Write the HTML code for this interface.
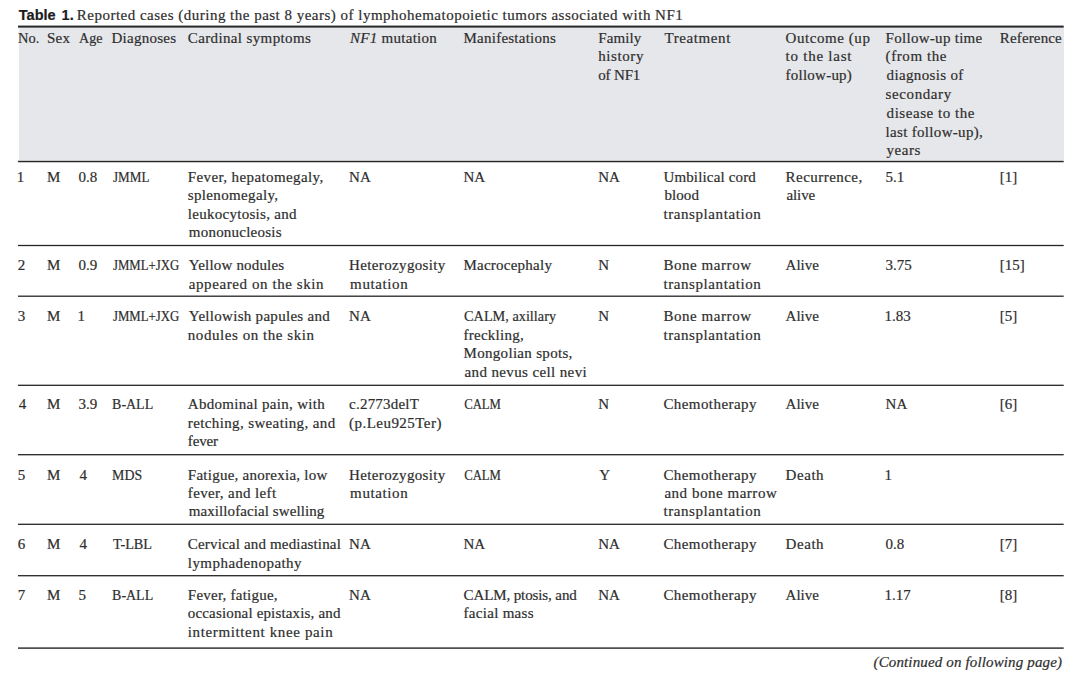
<!DOCTYPE html>
<html><head><meta charset="utf-8">
<style>
html,body{margin:0;padding:0;background:#fff;}
body{width:1080px;height:680px;position:relative;overflow:hidden;font-family:"Liberation Serif",serif;color:#2e2e2e;}
.l{position:absolute;font-size:15px;white-space:nowrap;-webkit-text-stroke:0.2px #2e2e2e;}
.hdr{position:absolute;left:18.5px;top:27px;width:1045px;height:133px;background:#e6e7ea;}
svg{position:absolute;left:0;top:0;}
</style></head><body>
<div class="hdr"></div>

<div class="l" style="left:18.8px;top:4.60px;line-height:20px;font-family:'Liberation Sans',sans-serif;font-weight:bold;font-size:14.5px;color:#1c1c1c;-webkit-text-stroke:0.2px #1c1c1c;word-spacing:2px">Table 1.</div>
<div class="l" style="left:76.80px;top:4.60px;line-height:20px;letter-spacing:0.49px">Reported cases (during the past 8 years) of lymphohematopoietic tumors associated with NF1</div>
<div class="l" style="left:17.75px;top:28.60px;line-height:18.8px;transform:scaleX(0.9625);transform-origin:1px 0">No.</div>
<div class="l" style="left:47.00px;top:28.60px;line-height:18.8px;letter-spacing:0.250px">Sex</div>
<div class="l" style="left:78.50px;top:28.60px;line-height:18.8px;transform:scaleX(0.9375);transform-origin:1px 0">Age</div>
<div class="l" style="left:111.50px;top:28.60px;line-height:18.8px;letter-spacing:0.250px">Diagnoses</div>
<div class="l" style="left:187.80px;top:28.60px;line-height:18.8px;letter-spacing:0.369px">Cardinal symptoms</div>
<div class="l" style="left:350.10px;top:28.60px;line-height:18.8px;letter-spacing:0.264px"><i>NF1</i> mutation</div>
<div class="l" style="left:463.50px;top:28.60px;line-height:18.8px;letter-spacing:0.246px">Manifestations</div>
<div class="l" style="left:598.20px;top:28.60px;line-height:18.8px;letter-spacing:0.120px">Family</div>
<div class="l" style="left:598.20px;top:47.40px;line-height:18.8px;letter-spacing:0.600px">history</div>
<div class="l" style="left:598.20px;top:66.20px;line-height:18.8px;letter-spacing:-0.160px">of NF1</div>
<div class="l" style="left:664.40px;top:28.60px;line-height:18.8px;letter-spacing:0.612px">Treatment</div>
<div class="l" style="left:785.60px;top:28.60px;line-height:18.8px;letter-spacing:0.560px">Outcome (up</div>
<div class="l" style="left:785.60px;top:47.40px;line-height:18.8px;letter-spacing:0.750px">to the last</div>
<div class="l" style="left:785.60px;top:66.20px;line-height:18.8px;letter-spacing:0.233px">follow-up)</div>
<div class="l" style="left:885.60px;top:28.60px;line-height:18.8px;letter-spacing:0.285px">Follow-up time</div>
<div class="l" style="left:885.60px;top:47.40px;line-height:18.8px;letter-spacing:0.587px">(from the</div>
<div class="l" style="left:886.60px;top:66.20px;line-height:18.8px;letter-spacing:0.345px">diagnosis of</div>
<div class="l" style="left:885.60px;top:85.00px;line-height:18.8px;letter-spacing:0.600px">secondary</div>
<div class="l" style="left:886.60px;top:103.80px;line-height:18.8px;letter-spacing:0.546px">disease to the</div>
<div class="l" style="left:885.60px;top:122.60px;line-height:18.8px;letter-spacing:0.313px">last follow-up),</div>
<div class="l" style="left:886.60px;top:141.40px;line-height:18.8px;letter-spacing:0.525px">years</div>
<div class="l" style="left:999.75px;top:28.60px;line-height:18.8px;letter-spacing:0.156px">Reference</div>
<div class="l" style="left:16.75px;top:167.60px;line-height:18.5px;letter-spacing:0.000px">1</div>
<div class="l" style="left:47.00px;top:167.60px;line-height:18.5px;letter-spacing:0.000px">M</div>
<div class="l" style="left:78.50px;top:167.60px;line-height:18.5px;letter-spacing:0.000px">0.8</div>
<div class="l" style="left:112.50px;top:167.60px;line-height:18.5px;transform:scaleX(0.8732);transform-origin:0px 0">JMML</div>
<div class="l" style="left:187.80px;top:167.60px;line-height:18.5px;letter-spacing:0.389px">Fever, hepatomegaly,</div>
<div class="l" style="left:187.80px;top:186.10px;line-height:18.5px;letter-spacing:0.350px">splenomegaly,</div>
<div class="l" style="left:187.80px;top:204.60px;line-height:18.5px;letter-spacing:0.281px">leukocytosis, and</div>
<div class="l" style="left:188.80px;top:223.10px;line-height:18.5px;letter-spacing:0.225px">mononucleosis</div>
<div class="l" style="left:349.10px;top:167.60px;line-height:18.5px;letter-spacing:0.000px">NA</div>
<div class="l" style="left:463.50px;top:167.60px;line-height:18.5px;letter-spacing:0.000px">NA</div>
<div class="l" style="left:598.20px;top:167.60px;line-height:18.5px;letter-spacing:0.000px">NA</div>
<div class="l" style="left:663.40px;top:167.60px;line-height:18.5px;letter-spacing:0.154px">Umbilical cord</div>
<div class="l" style="left:664.40px;top:186.10px;line-height:18.5px;letter-spacing:0.100px">blood</div>
<div class="l" style="left:663.40px;top:204.60px;line-height:18.5px;letter-spacing:0.586px">transplantation</div>
<div class="l" style="left:785.60px;top:167.60px;line-height:18.5px;letter-spacing:0.460px">Recurrence,</div>
<div class="l" style="left:786.60px;top:186.10px;line-height:18.5px;letter-spacing:-0.150px">alive</div>
<div class="l" style="left:885.60px;top:167.60px;line-height:18.5px;letter-spacing:0.000px">5.1</div>
<div class="l" style="left:999.75px;top:167.60px;line-height:18.5px;letter-spacing:0.000px">[1]</div>
<div class="l" style="left:17.75px;top:256.45px;line-height:18.5px;letter-spacing:0.000px">2</div>
<div class="l" style="left:47.00px;top:256.45px;line-height:18.5px;letter-spacing:0.000px">M</div>
<div class="l" style="left:78.50px;top:256.45px;line-height:18.5px;letter-spacing:0.000px">0.9</div>
<div class="l" style="left:112.50px;top:256.45px;line-height:18.5px;transform:scaleX(0.8532);transform-origin:0px 0">JMML+JXG</div>
<div class="l" style="left:188.80px;top:256.45px;line-height:18.5px;letter-spacing:0.169px">Yellow nodules</div>
<div class="l" style="left:188.80px;top:274.95px;line-height:18.5px;letter-spacing:0.584px">appeared on the skin</div>
<div class="l" style="left:349.10px;top:256.45px;line-height:18.5px;letter-spacing:0.354px">Heterozygosity</div>
<div class="l" style="left:350.10px;top:274.95px;line-height:18.5px;letter-spacing:0.614px">mutation</div>
<div class="l" style="left:463.50px;top:256.45px;line-height:18.5px;letter-spacing:0.236px">Macrocephaly</div>
<div class="l" style="left:598.20px;top:256.45px;line-height:18.5px;letter-spacing:0.000px">N</div>
<div class="l" style="left:663.40px;top:256.45px;line-height:18.5px;letter-spacing:0.560px">Bone marrow</div>
<div class="l" style="left:663.40px;top:274.95px;line-height:18.5px;letter-spacing:0.586px">transplantation</div>
<div class="l" style="left:785.60px;top:256.45px;line-height:18.5px;letter-spacing:0.000px">Alive</div>
<div class="l" style="left:885.60px;top:256.45px;line-height:18.5px;letter-spacing:0.000px">3.75</div>
<div class="l" style="left:999.75px;top:256.45px;line-height:18.5px;letter-spacing:0.000px">[15]</div>
<div class="l" style="left:17.75px;top:307.05px;line-height:18.5px;letter-spacing:0.000px">3</div>
<div class="l" style="left:47.00px;top:307.05px;line-height:18.5px;letter-spacing:0.000px">M</div>
<div class="l" style="left:77.50px;top:307.05px;line-height:18.5px;letter-spacing:0.000px">1</div>
<div class="l" style="left:112.50px;top:307.05px;line-height:18.5px;transform:scaleX(0.8532);transform-origin:0px 0">JMML+JXG</div>
<div class="l" style="left:188.80px;top:307.05px;line-height:18.5px;letter-spacing:0.290px">Yellowish papules and</div>
<div class="l" style="left:187.80px;top:325.55px;line-height:18.5px;letter-spacing:0.556px">nodules on the skin</div>
<div class="l" style="left:349.10px;top:307.05px;line-height:18.5px;letter-spacing:0.000px">NA</div>
<div class="l" style="left:463.50px;top:307.05px;line-height:18.5px;transform:scaleX(0.9516);transform-origin:1px 0">CALM, axillary</div>
<div class="l" style="left:463.50px;top:325.55px;line-height:18.5px;letter-spacing:0.256px">freckling,</div>
<div class="l" style="left:463.50px;top:344.05px;line-height:18.5px;letter-spacing:0.313px">Mongolian spots,</div>
<div class="l" style="left:464.50px;top:362.55px;line-height:18.5px;letter-spacing:0.378px">and nevus cell nevi</div>
<div class="l" style="left:598.20px;top:307.05px;line-height:18.5px;letter-spacing:0.000px">N</div>
<div class="l" style="left:663.40px;top:307.05px;line-height:18.5px;letter-spacing:0.560px">Bone marrow</div>
<div class="l" style="left:663.40px;top:325.55px;line-height:18.5px;letter-spacing:0.586px">transplantation</div>
<div class="l" style="left:785.60px;top:307.05px;line-height:18.5px;letter-spacing:0.000px">Alive</div>
<div class="l" style="left:884.60px;top:307.05px;line-height:18.5px;letter-spacing:0.000px">1.83</div>
<div class="l" style="left:999.75px;top:307.05px;line-height:18.5px;letter-spacing:0.000px">[5]</div>
<div class="l" style="left:18.75px;top:394.65px;line-height:18.9px;letter-spacing:0.000px">4</div>
<div class="l" style="left:47.00px;top:394.65px;line-height:18.9px;letter-spacing:0.000px">M</div>
<div class="l" style="left:78.50px;top:394.65px;line-height:18.9px;letter-spacing:0.000px">3.9</div>
<div class="l" style="left:111.50px;top:394.65px;line-height:18.9px;transform:scaleX(0.9310);transform-origin:1px 0">B-ALL</div>
<div class="l" style="left:187.80px;top:394.65px;line-height:18.9px;letter-spacing:0.300px">Abdominal pain, with</div>
<div class="l" style="left:187.80px;top:413.55px;line-height:18.9px;letter-spacing:0.373px">retching, sweating, and</div>
<div class="l" style="left:187.80px;top:432.45px;line-height:18.9px;letter-spacing:-0.150px">fever</div>
<div class="l" style="left:349.10px;top:394.65px;line-height:18.9px;letter-spacing:0.211px">c.2773delT</div>
<div class="l" style="left:349.10px;top:413.55px;line-height:18.9px;letter-spacing:0.458px">(p.Leu925Ter)</div>
<div class="l" style="left:463.50px;top:394.65px;line-height:18.9px;transform:scaleX(0.8476);transform-origin:1px 0">CALM</div>
<div class="l" style="left:598.20px;top:394.65px;line-height:18.9px;letter-spacing:0.000px">N</div>
<div class="l" style="left:663.40px;top:394.65px;line-height:18.9px;letter-spacing:0.427px">Chemotherapy</div>
<div class="l" style="left:785.60px;top:394.65px;line-height:18.9px;letter-spacing:0.000px">Alive</div>
<div class="l" style="left:885.60px;top:394.65px;line-height:18.9px;letter-spacing:0.000px">NA</div>
<div class="l" style="left:999.75px;top:394.65px;line-height:18.9px;letter-spacing:0.000px">[6]</div>
<div class="l" style="left:17.75px;top:465.55px;line-height:18.1px;letter-spacing:0.000px">5</div>
<div class="l" style="left:47.00px;top:465.55px;line-height:18.1px;letter-spacing:0.000px">M</div>
<div class="l" style="left:79.50px;top:465.55px;line-height:18.1px;letter-spacing:0.000px">4</div>
<div class="l" style="left:111.50px;top:465.55px;line-height:18.1px;transform:scaleX(0.9226);transform-origin:1px 0">MDS</div>
<div class="l" style="left:187.80px;top:465.55px;line-height:18.1px;letter-spacing:0.257px">Fatigue, anorexia, low</div>
<div class="l" style="left:187.80px;top:483.65px;line-height:18.1px;letter-spacing:0.371px">fever, and left</div>
<div class="l" style="left:188.80px;top:501.75px;line-height:18.1px;letter-spacing:0.081px">maxillofacial swelling</div>
<div class="l" style="left:349.10px;top:465.55px;line-height:18.1px;letter-spacing:0.354px">Heterozygosity</div>
<div class="l" style="left:350.10px;top:483.65px;line-height:18.1px;letter-spacing:0.614px">mutation</div>
<div class="l" style="left:463.50px;top:465.55px;line-height:18.1px;transform:scaleX(0.8476);transform-origin:1px 0">CALM</div>
<div class="l" style="left:599.20px;top:465.55px;line-height:18.1px;letter-spacing:0.000px">Y</div>
<div class="l" style="left:663.40px;top:465.55px;line-height:18.1px;letter-spacing:0.427px">Chemotherapy</div>
<div class="l" style="left:664.40px;top:483.65px;line-height:18.1px;letter-spacing:0.529px">and bone marrow</div>
<div class="l" style="left:663.40px;top:501.75px;line-height:18.1px;letter-spacing:0.586px">transplantation</div>
<div class="l" style="left:785.60px;top:465.55px;line-height:18.1px;letter-spacing:0.550px">Death</div>
<div class="l" style="left:884.60px;top:465.55px;line-height:18.1px;letter-spacing:0.000px">1</div>
<div class="l" style="left:17.75px;top:535.10px;line-height:18.4px;letter-spacing:0.000px">6</div>
<div class="l" style="left:47.00px;top:535.10px;line-height:18.4px;letter-spacing:0.000px">M</div>
<div class="l" style="left:79.50px;top:535.10px;line-height:18.4px;letter-spacing:0.000px">4</div>
<div class="l" style="left:112.50px;top:535.10px;line-height:18.4px;transform:scaleX(0.9500);transform-origin:0px 0">T-LBL</div>
<div class="l" style="left:187.80px;top:535.10px;line-height:18.4px;letter-spacing:0.170px">Cervical and mediastinal</div>
<div class="l" style="left:187.80px;top:553.50px;line-height:18.4px;letter-spacing:0.450px">lymphadenopathy</div>
<div class="l" style="left:349.10px;top:535.10px;line-height:18.4px;letter-spacing:0.000px">NA</div>
<div class="l" style="left:463.50px;top:535.10px;line-height:18.4px;letter-spacing:0.000px">NA</div>
<div class="l" style="left:598.20px;top:535.10px;line-height:18.4px;letter-spacing:0.000px">NA</div>
<div class="l" style="left:663.40px;top:535.10px;line-height:18.4px;letter-spacing:0.427px">Chemotherapy</div>
<div class="l" style="left:785.60px;top:535.10px;line-height:18.4px;letter-spacing:0.550px">Death</div>
<div class="l" style="left:885.60px;top:535.10px;line-height:18.4px;letter-spacing:0.000px">0.8</div>
<div class="l" style="left:999.75px;top:535.10px;line-height:18.4px;letter-spacing:0.000px">[7]</div>
<div class="l" style="left:17.75px;top:585.52px;line-height:18.75px;letter-spacing:0.000px">7</div>
<div class="l" style="left:47.00px;top:585.52px;line-height:18.75px;letter-spacing:0.000px">M</div>
<div class="l" style="left:78.50px;top:585.52px;line-height:18.75px;letter-spacing:0.000px">5</div>
<div class="l" style="left:111.50px;top:585.52px;line-height:18.75px;transform:scaleX(0.9310);transform-origin:1px 0">B-ALL</div>
<div class="l" style="left:187.80px;top:585.52px;line-height:18.75px;letter-spacing:0.236px">Fever, fatigue,</div>
<div class="l" style="left:187.80px;top:604.27px;line-height:18.75px;letter-spacing:0.162px">occasional epistaxis, and</div>
<div class="l" style="left:187.80px;top:623.02px;line-height:18.75px;letter-spacing:0.629px">intermittent knee pain</div>
<div class="l" style="left:349.10px;top:585.52px;line-height:18.75px;letter-spacing:0.000px">NA</div>
<div class="l" style="left:463.50px;top:585.52px;line-height:18.75px;letter-spacing:-0.106px">CALM, ptosis, and</div>
<div class="l" style="left:463.50px;top:604.27px;line-height:18.75px;letter-spacing:0.300px">facial mass</div>
<div class="l" style="left:598.20px;top:585.52px;line-height:18.75px;letter-spacing:0.000px">NA</div>
<div class="l" style="left:663.40px;top:585.52px;line-height:18.75px;letter-spacing:0.427px">Chemotherapy</div>
<div class="l" style="left:785.60px;top:585.52px;line-height:18.75px;letter-spacing:0.000px">Alive</div>
<div class="l" style="left:884.60px;top:585.52px;line-height:18.75px;letter-spacing:0.000px">1.17</div>
<div class="l" style="left:999.75px;top:585.52px;line-height:18.75px;letter-spacing:0.000px">[8]</div>
<svg width="1080" height="680">
<rect x="18" y="25.60" width="1045.7" height="2.0" fill="#262626"/>
<rect x="18" y="160.75" width="1045.7" height="1.5" fill="#262626"/>
<rect x="18" y="244.85" width="1045.7" height="1.3" fill="#262626"/>
<rect x="18" y="295.55" width="1045.7" height="1.3" fill="#262626"/>
<rect x="18" y="384.65" width="1045.7" height="1.3" fill="#262626"/>
<rect x="18" y="454.05" width="1045.7" height="1.3" fill="#262626"/>
<rect x="18" y="523.65" width="1045.7" height="1.3" fill="#262626"/>
<rect x="18" y="575.05" width="1045.7" height="1.3" fill="#262626"/>
<rect x="18" y="647.40" width="1045.7" height="1.4" fill="#262626"/>
</svg>
<div class="l" style="left:873.50px;top:652.40px;line-height:20px;font-style:italic;letter-spacing:0.139px">(Continued on following page)</div>
</body></html>
